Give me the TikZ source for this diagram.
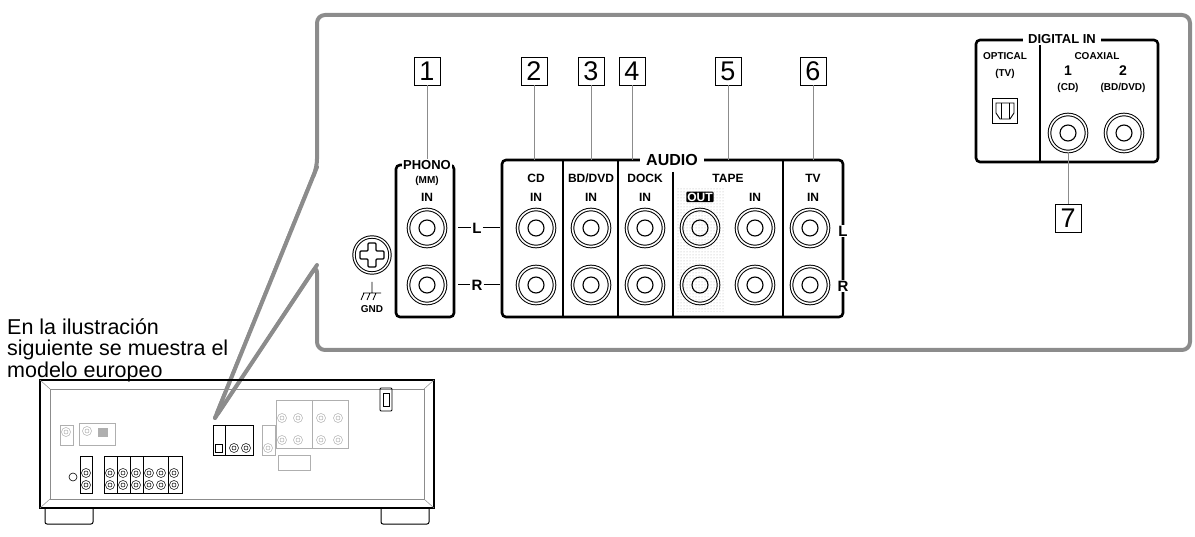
\documentclass[tikz,border=0pt]{standalone}
\usepackage{fontspec}
\setmainfont{Liberation Sans}
\usetikzlibrary{positioning,calc,patterns}
\definecolor{callout}{RGB}{140,140,140}
\definecolor{faded}{RGB}{175,175,175}
\tikzset{x=1pt,y=-1pt}
\tikzset{numbox/.style={draw,line width=.9pt,minimum width=26pt,minimum height=28pt,inner sep=0pt,font=\fontsize{27}{27}\selectfont}}
\tikzset{lbl/.style={font=\bfseries\fontsize{12}{12}\selectfont,inner sep=1pt}}
\tikzset{small/.style={font=\bfseries\fontsize{10}{10}\selectfont,inner sep=1pt}}
\tikzset{panel/.style={line width=2.6pt,rounded corners=4pt}}
\tikzset{jack/.style={circle,draw,line width=1pt,double,double distance=1.6pt,minimum size=37pt,inner sep=0pt}}
\tikzset{minijack/.style={circle,draw,line width=.5pt,minimum size=9pt,inner sep=0pt}}
\newcommand{\jack}[2]{
  \node[jack] (#1) at (#2) {};
  \draw[line width=1.1pt] (#1) circle (8);
}
\newcommand{\minijack}[3]{
  \node[minijack,draw=#3] (#1) at (#2) {};
  \draw[line width=.5pt,#3] (#1) circle (2);
}
\begin{document}
\begin{tikzpicture}
  \useasboundingbox (0,0) rectangle (1195,537);
  %% callout frame
  \draw[callout,line width=4pt,rounded corners=8pt,line join=round]
    (215,418) -- (317,167) -- (317,15) -- (1190,15) -- (1190,350) -- (317,350) -- (317,265) -- cycle;
  \fill[white] (216,416) -- (315,172) -- (315,262) -- cycle;
  \draw[callout,line width=4pt,line join=round,line cap=round] (215,418) -- (317,167);
  \draw[callout,line width=4pt,line join=round,line cap=round] (215,418) -- (317,265);

  %% caption
  \node[anchor=west,font=\fontsize{21.5}{21.5}\selectfont,inner sep=0pt] (cap1) at (7,327) {En la ilustración};
  \node[anchor=west,font=\fontsize{21.5}{21.5}\selectfont,inner sep=0pt] (cap2) at (7,350) {siguiente se muestra el};
  \node[anchor=west,font=\fontsize{21.5}{21.5}\selectfont,inner sep=0pt] (cap3) at (7,372) {modelo europeo};

  %% PHONO
  \draw[panel] (396,165) rectangle (454,317);
  \node[lbl,fill=white,font=\bfseries\fontsize{13}{13}\selectfont] (phono) at (427,165) {PHONO};
  \node[small] (mm) at (427,181) {(MM)};
  \node[lbl] (phonoin) at (427,197) {IN};
  \jack{phonoL}{427,228}
  \jack{phonoR}{427,285}
  %% GND
  \node[circle,draw,line width=1pt,double,double distance=1.4pt,minimum size=36pt] (gnd) at (372,255) {};
  \draw[line width=1.1pt,rounded corners=1pt] (368,243) -- (376,243) -- (376,251) -- (384,251) -- (384,259) -- (376,259) -- (376,267)
    -- (368,267) -- (368,259) -- (360,259) -- (360,251) -- (368,251) -- cycle;
  \draw[line width=.8pt] (372,282) -- (372,293) (363,293) -- (381,293)
    (364,293) -- (361,300) (370,293) -- (367,300) (376,293) -- (373,300);
  \node[small] (gndlbl) at (372,309) {GND};
  %% L R middle
  \node[lbl,font=\bfseries\fontsize{15}{15}\selectfont] (midL) at (477,228) {L};
  \node[lbl,font=\bfseries\fontsize{15}{15}\selectfont] (midR) at (477,285) {R};
  \draw[line width=1pt] (458,228) -- (midL) -- (500,228);
  \draw[line width=1pt] (458,285) -- (midR) -- (500,285);

  %% AUDIO
  \fill[pattern=dots,pattern color=faded] (676,187) rectangle (725,312);
  \draw[panel] (502,160) rectangle (843,317);
  \draw[line width=1.8pt] (563,160) -- (563,317) (618,160) -- (618,317) (673,172) -- (673,317) (783,160) -- (783,317);
  \node[lbl,fill=white,inner xsep=6pt,font=\bfseries\fontsize{16}{16}\selectfont] (audio) at (672,160) {AUDIO};
  \node[lbl] (cd) at (536,178) {CD};
  \node[lbl] (bd) at (591,178) {BD/DVD};
  \node[lbl] (dock) at (645,178) {DOCK};
  \node[lbl] (tape) at (728,178) {TAPE};
  \node[lbl] (tv) at (813,178) {TV};
  \foreach \nm/\xx in {cdin/536,bdin/591,dockin/645,tapein/755,tvin/813}
    \node[lbl] (\nm) at (\xx,197) {IN};
  \node[lbl,fill=black,text=white,rounded corners=1pt] (out) at (700,197) {OUT};
  \foreach \nm/\xx in {cd/536,bd/591,dock/645,tapeout/700,tapein/755,tv/810}{
    \jack{\nm L}{\xx,228}
    \jack{\nm R}{\xx,285}
  }
  \node[lbl,fill=white,font=\bfseries\fontsize{15}{15}\selectfont] (rightL) at (843,231) {L};
  \node[lbl,fill=white,font=\bfseries\fontsize{15}{15}\selectfont] (rightR) at (843,286) {R};

  %% number boxes
  \node[numbox] (n1) at (427,71) {1};
  \node[numbox] (n2) at (534,71) {2};
  \node[numbox] (n3) at (591,71) {3};
  \node[numbox] (n4) at (632,71) {4};
  \node[numbox] (n5) at (728,71) {5};
  \node[numbox] (n6) at (813,71) {6};
  \draw[callout,line width=1pt] (n1) -- (phono);
  \draw[callout,line width=1pt] (n2) -- (534,160);
  \draw[callout,line width=1pt] (n3) -- (591,160);
  \draw[callout,line width=1pt] (n4) -- (632,160);
  \draw[callout,line width=1pt] (n5) -- (728,160);
  \draw[callout,line width=1pt] (n6) -- (813,160);

  %% DIGITAL IN
  \draw[panel] (976,40) rectangle (1158,162);
  \draw[line width=1.8pt] (1040,40) -- (1040,162);
  \node[lbl,fill=white,inner xsep=5pt,font=\bfseries\fontsize{13}{13}\selectfont] (digital) at (1062,39) {DIGITAL IN};
  \node[small] (optical) at (1005,56) {OPTICAL};
  \node[small] (optv) at (1005,74) {(TV)};
  \node[small] (coax) at (1097,56) {COAXIAL};
  \node[lbl,font=\bfseries\fontsize{14}{14}\selectfont] (one) at (1068,71) {1};
  \node[lbl,font=\bfseries\fontsize{14}{14}\selectfont] (two) at (1123,71) {2};
  \node[small] (cdc) at (1068,88) {(CD)};
  \node[small] (bdc) at (1123,88) {(BD/DVD)};
  \node[draw,line width=1pt,minimum size=25pt,inner sep=0pt] (opt) at (1005,111) {};
  \draw[line width=.9pt] (996,103) -- (996,113) -- (1000,119) -- (1010,119) -- (1014,113) -- (1014,103) -- cycle;
  \draw[line width=.7pt] (1001,103) -- (1001,119) (1009,103) -- (1009,119);
  \jack{coax1}{1068,133}
  \jack{coax2}{1124,133}
  \node[numbox] (n7) at (1068,218) {7};
  \draw[callout,line width=1pt] (coax1) -- (n7);

  %% receiver rear view
  \draw[line width=1.2pt] (40,380) rectangle (434,508);
  \draw[callout,line width=.6pt] (50,389) rectangle (424,499);
  \draw[callout,line width=.5pt] (40,380) -- (50,389) (434,380) -- (424,389) (40,508) -- (50,499) (434,508) -- (424,499);
  \draw[line width=1pt,rounded corners=2pt] (45,508) -- (45,524) -- (93,524) -- (93,508);
  \draw[line width=1pt,rounded corners=2pt] (381,508) -- (381,524) -- (429,524) -- (429,508);
  \draw[line width=.8pt,rounded corners=1pt] (380,388) rectangle (392,411);
  \draw[line width=.6pt] (383,393) rectangle (389,406);
  % faded parts
  \draw[faded,line width=.6pt] (60,425) rectangle (73,445);
  \minijack{ant1}{66,432}{faded}
  \draw[faded,line width=.6pt] (79,423) rectangle (115,445);
  \minijack{ant2}{87,431}{faded}
  \fill[faded] (98,428) rectangle (108,437);
  \draw[faded,line width=.6pt] (262,425) rectangle (275,455);
  \minijack{pre}{268,448}{faded}
  \draw[faded,line width=.6pt] (276,400) rectangle (348,448) (312,400) -- (312,448);
  \foreach \xx in {282,298,321,338}{
    \minijack{spA\xx}{\xx,418}{faded}
    \minijack{spB\xx}{\xx,440}{faded}
  }
  \draw[faded,line width=.6pt] (278,455) rectangle (310,470);
  % digital in small
  \draw[line width=.8pt] (213,425) rectangle (253,455) (225,425) -- (225,455);
  \draw[line width=.6pt] (215,444) rectangle (222,452);
  \minijack{dc1}{234,448}{black}
  \minijack{dc2}{246,448}{black}
  % audio small
  \draw[line width=.8pt] (80,456) rectangle (92,493);
  \draw[line width=.8pt] (104,456) rectangle (182,493);
  \draw[line width=.5pt] (117,456) -- (117,493) (130,456) -- (130,493) (143,456) -- (143,493) (168,456) -- (168,493);
  \node[circle,draw,line width=.6pt,minimum size=8pt,inner sep=0pt] (gndmini) at (73,477) {};
  \minijack{phm1}{86,473}{black}
  \minijack{phm2}{86,485}{black}
  \foreach \xx in {110,123,136,149,161,174}{
    \minijack{au\xx a}{\xx,473}{black}
    \minijack{au\xx b}{\xx,485}{black}
  }
\end{tikzpicture}
\end{document}
